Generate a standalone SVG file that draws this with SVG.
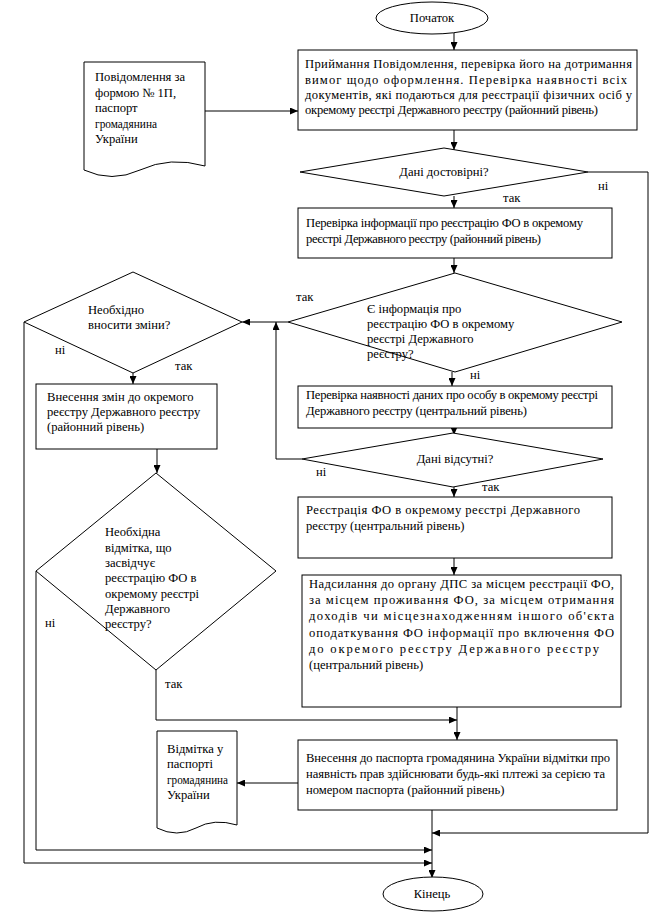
<svg xmlns="http://www.w3.org/2000/svg" width="661" height="914" viewBox="0 0 661 914">
<defs>
<marker id="ah" viewBox="0 0 8 7" refX="8" refY="3.5" markerWidth="8" markerHeight="7" markerUnits="userSpaceOnUse" orient="auto"><path d="M0,0 L8,3.5 L0,7 z" fill="#000"/></marker>
</defs>
<style>
.s{fill:#fff;stroke:#000;stroke-width:1}
text{font-family:'Liberation Serif','Times New Roman',serif;font-size:12.6px;fill:#000}
.c{text-anchor:middle}
.l{fill:none;stroke:#000;stroke-width:1}
.a{marker-end:url(#ah)}
</style>
<rect width="661" height="914" fill="#fff"/>
<g id="connectors">
<path class="l a" d="M454,33 V50"/>
<path class="l a" d="M205,111 H298"/>
<path class="l a" d="M454,130 V150"/>
<path class="l" d="M588,172 H648 V833"/>
<path class="l a" d="M648,833 H432"/>
<path class="l a" d="M454,196 V208"/>
<path class="l a" d="M454,258 V273"/>
<path class="l a" d="M288,322 H242"/>
<path class="l a" d="M452,372 V386"/>
<path class="l a" d="M454,428 V435"/>
<path class="l" d="M302,459 H276"/>
<path class="l a" d="M276,459 V322"/>
<path class="l a" d="M454,487 V497"/>
<path class="l a" d="M454,558 V575"/>
<path class="l a" d="M133,373 V384"/>
<path class="l a" d="M157,449 V473"/>
<path class="l" d="M156,670 V720"/>
<path class="l a" d="M156,720 H457"/>
<path class="l a" d="M457,707 V740"/>
<path class="l a" d="M298,783 H237"/>
<path class="l a" d="M432,810 V878"/>
<path class="l" d="M24,322 V863"/>
<path class="l a" d="M24,863 H432"/>
<path class="l" d="M36,571 V850"/>
<path class="l a" d="M36,850 H432"/>
</g>
<g id="start">
<ellipse class="s" cx="432" cy="18" rx="56" ry="16"/>
<text class="c" x="432" y="22">Початок</text>
</g>
<g id="doc1">
<path class="s" d="M84,62 H205 V166 Q170,156 140,170 Q112,183 84,170 Z"/>
<text x="95" y="81">Повідомлення за</text>
<text x="95" y="97">формою № 1П,</text>
<text x="95" y="112">паспорт</text>
<text x="95" y="128" textLength="62" lengthAdjust="spacingAndGlyphs">громадянина</text>
<text x="95" y="143">України</text>
</g>
<g id="box1">
<rect class="s" x="298" y="50" width="339" height="80"/>
<text x="305" y="68" textLength="327" lengthAdjust="spacing">Приймання Повідомлення, перевірка його на дотримання</text>
<text x="305" y="84" textLength="322" lengthAdjust="spacing">вимог щодо оформлення. Перевірка наявності всіх</text>
<text x="305" y="99" textLength="327" lengthAdjust="spacing">документів, які подаються для реєстрації фізичних осіб у</text>
<text x="305" y="114" textLength="293" lengthAdjust="spacing">окремому реєстрі Державного реєстру (районний рівень)</text>
</g>
<g id="dec1">
<path class="s" d="M444,148 L588,172 L444,196 L300,172 Z"/>
<text class="c" x="444" y="176">Дані достовірні?</text>
<text x="503" y="202">так</text>
<text x="598" y="190">ні</text>
</g>
<g id="box2">
<rect class="s" x="298" y="208" width="314" height="50"/>
<text x="306" y="227" textLength="277" lengthAdjust="spacing">Перевірка інформації про реєстрацію ФО в окремому</text>
<text x="306" y="243" textLength="235" lengthAdjust="spacing">реєстрі Державного реєстру (районний рівень)</text>
</g>
<g id="dec2">
<path class="s" d="M455,273 L622,322 L455,372 L288,322 Z"/>
<text x="367" y="313">Є інформація про</text>
<text x="367" y="328">реєстрацію ФО в окремому</text>
<text x="367" y="343">реєстрі Державного</text>
<text x="367" y="358">реєстру?</text>
<text x="296" y="301">так</text>
<text x="470" y="379">ні</text>
</g>
<g id="box3">
<rect class="s" x="298" y="386" width="314" height="42"/>
<text x="306" y="399" textLength="292" lengthAdjust="spacing">Перевірка наявності даних про особу в окремому реєстрі</text>
<text x="306" y="415" textLength="221" lengthAdjust="spacing">Державного реєстру (центральний рівень)</text>
</g>
<g id="dec3">
<path class="s" d="M453,433 L603,459 L453,487 L302,459 Z"/>
<text class="c" x="455" y="463">Дані відсутні?</text>
<text x="316" y="476">ні</text>
<text x="482" y="491">так</text>
</g>
<g id="dec4">
<path class="s" d="M133,272 L242,322 L133,373 L24,322 Z"/>
<text x="88" y="314">Необхідно</text>
<text x="88" y="329">вносити зміни?</text>
<text x="55" y="354">ні</text>
<text x="175" y="370">так</text>
</g>
<g id="box4">
<rect class="s" x="36" y="384" width="181" height="65"/>
<text x="47" y="401">Внесення змін до окремого</text>
<text x="47" y="416">реєстру Державного реєстру</text>
<text x="47" y="431">(районний рівень)</text>
</g>
<g id="dec5">
<path class="s" d="M156,473 L276,571 L156,670 L36,571 Z"/>
<text x="105" y="536">Необхідна</text>
<text x="105" y="552">відмітка, що</text>
<text x="105" y="567">засвідчує</text>
<text x="105" y="582">реєстрацію ФО в</text>
<text x="105" y="598">окремому реєстрі</text>
<text x="105" y="613">Державного</text>
<text x="105" y="628">реєстру?</text>
<text x="45" y="627">ні</text>
<text x="165" y="688">так</text>
</g>
<g id="box5">
<rect class="s" x="298" y="497" width="314" height="61"/>
<text x="306" y="514" textLength="274" lengthAdjust="spacing">Реєстрація ФО в окремому реєстрі Державного</text>
<text x="306" y="530">реєстру (центральний рівень)</text>
</g>
<g id="box6">
<rect class="s" x="302" y="575" width="319" height="132"/>
<text x="309" y="588" textLength="305" lengthAdjust="spacing">Надсилання до органу ДПС за місцем реєстрації ФО,</text>
<text x="309" y="604" textLength="305" lengthAdjust="spacing">за місцем проживання ФО, за місцем отримання</text>
<text x="309" y="620" textLength="305" lengthAdjust="spacing">доходів чи місцезнаходженням іншого об'єкта</text>
<text x="309" y="637" textLength="305" lengthAdjust="spacing">оподаткування ФО інформації про включення ФО</text>
<text x="309" y="653" textLength="290" lengthAdjust="spacing">до окремого реєстру Державного реєстру</text>
<text x="309" y="669">(центральний рівень)</text>
</g>
<g id="box7">
<rect class="s" x="298" y="740" width="319" height="70"/>
<text x="306" y="762" textLength="304" lengthAdjust="spacing">Внесення до паспорта громадянина України відмітки про</text>
<text x="306" y="778" textLength="299" lengthAdjust="spacing">наявність прав  здійснювати будь-які плтежі за серією та</text>
<text x="306" y="794">номером паспорта (районний рівень)</text>
</g>
<g id="doc2">
<path class="s" d="M157,731 H237 V825 Q214,818 196,828 Q177,838 157,828 Z"/>
<text x="167" y="753">Відмітка у</text>
<text x="167" y="768">паспорті</text>
<text x="167" y="784" textLength="61" lengthAdjust="spacingAndGlyphs">громадянина</text>
<text x="167" y="799">України</text>
</g>
<g id="end">
<ellipse class="s" cx="433" cy="894" rx="50" ry="17"/>
<text class="c" x="432" y="898">Кінець</text>
</g>
</svg>
